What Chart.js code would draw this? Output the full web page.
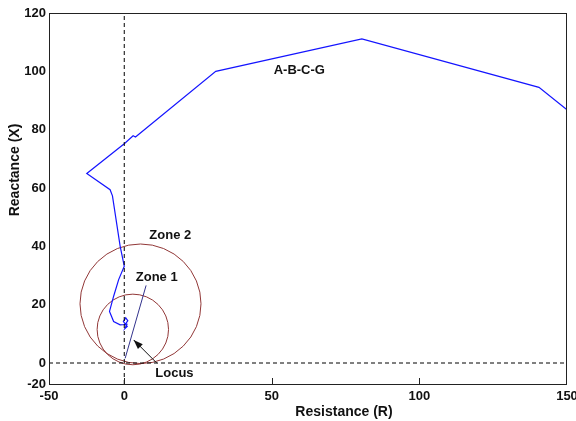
<!DOCTYPE html>
<html>
<head>
<meta charset="utf-8">
<script src="https://cdn.jsdelivr.net/npm/chart.js@4.4.0/dist/chart.umd.min.js"></script>
<style>
  html, body { margin: 0; padding: 0; background: #fff; }
  #wrap { width: 576px; height: 421px; }
</style>
</head>
<body>
<div id="wrap"><canvas id="myChart" width="576" height="421"></canvas></div>
<script>
// impedance trajectory seen by the relay (R, X)
const trajR = [150, 140.5, 80.5, 31, 3.8, 3.0, 0, -12.7, -4.8, -4, -1.4, 0, -1.9, -3.6, -5, -3.6, -1.4, 0.3, 1.2, 0.5, -0.3, 1.0, 0.2, 1.0];
const trajX = [86.8, 94.5, 111.1, 100, 77.5, 77.9, 75.2, 65, 59.4, 57.3, 40.1, 33.2, 28.6, 22.9, 17.7, 14.2, 13.1, 13.2, 14.5, 15.5, 14.2, 12.5, 11.8, 13.5];

// relay line (locus)
const locusR = [0.3, 7.4];
const locusX = [1.6, 26.6];

// mho zones: centre R, centre X, radius
const zoneNames = ["Zone 1", "Zone 2"];
const zoneCenterR = [2.9, 5.5];
const zoneCenterX = [11.5, 20.3];
const zoneRadius = [12.1, 20.5];

// axis ticks (left / bottom ends carry the labels of the original figure)
const xTickValues = [-25.5, 0, 50, 100, 150];
const xTickLabels = ["-50", "0", "50", "100", "150"];
const yTickValues = [-7.2, 0, 20, 40, 60, 80, 100, 120];
const yTickLabels = ["-20", "0", "20", "40", "60", "80", "100", "120"];

// text notes
const noteText = ["A-B-C-G", "Zone 2", "Zone 1", "Locus"];
const noteR = [59.3, 15.6, 11, 17];
const noteX = [100.3, 43.9, 29.2, -3.6];

// arrow from "Locus" text to the line
const arrowR = [11.1, 3.2];
const arrowX = [-0.1, 7.9];

const toPoints = (xs, ys) => xs.map((v, i) => ({ x: v, y: ys[i] }));

const FONT = "'Liberation Sans', Arial, sans-serif";

const extrasPlugin = {
  id: "extras",
  beforeDatasetsDraw(chart) {
    const { ctx, chartArea, scales } = chart;
    const sx = scales.x, sy = scales.y;
    ctx.save();
    ctx.beginPath();
    ctx.rect(chartArea.left, chartArea.top, chartArea.width, chartArea.height);
    ctx.clip();
    ctx.strokeStyle = "rgb(145,55,55)";
    ctx.lineWidth = 1;
    zoneRadius.forEach((r, i) => {
      const cx = sx.getPixelForValue(zoneCenterR[i]);
      const cy = sy.getPixelForValue(zoneCenterX[i]);
      const rx = Math.abs(sx.getPixelForValue(zoneCenterR[i] + r) - cx);
      const ry = Math.abs(sy.getPixelForValue(zoneCenterX[i] + r) - cy);
      ctx.beginPath();
      ctx.ellipse(cx, cy, rx, ry, 0, 0, Math.PI * 2);
      ctx.stroke();
    });
    ctx.restore();
  },
  afterDraw(chart) {
    const { ctx, chartArea, scales } = chart;
    const sx = scales.x, sy = scales.y;
    ctx.save();
    // frame
    ctx.strokeStyle = "#222";
    ctx.lineWidth = 1;
    ctx.strokeRect(chartArea.left + 0.5, chartArea.top + 0.5, chartArea.width - 1, chartArea.height);
    // inward ticks on bottom axis
    xTickValues.slice(1, 4).forEach(v => {
      const px = Math.round(sx.getPixelForValue(v)) + 0.5;
      ctx.beginPath();
      ctx.moveTo(px, chartArea.bottom);
      ctx.lineTo(px, chartArea.bottom - 6);
      ctx.stroke();
    });
    // notes
    ctx.fillStyle = "#111";
    ctx.font = "bold 13px " + FONT;
    ctx.textAlign = "center";
    ctx.textBaseline = "middle";
    noteText.forEach((t, i) => {
      ctx.fillText(t, sx.getPixelForValue(noteR[i]), sy.getPixelForValue(noteX[i]));
    });
    // arrow
    const x0 = sx.getPixelForValue(arrowR[0]), y0 = sy.getPixelForValue(arrowX[0]);
    const x1 = sx.getPixelForValue(arrowR[1]), y1 = sy.getPixelForValue(arrowX[1]);
    const ang = Math.atan2(y1 - y0, x1 - x0);
    ctx.strokeStyle = "#111";
    ctx.beginPath();
    ctx.moveTo(x0, y0);
    ctx.lineTo(x1, y1);
    ctx.stroke();
    ctx.beginPath();
    ctx.moveTo(x1, y1);
    ctx.lineTo(x1 - 10 * Math.cos(ang - 0.35), y1 - 10 * Math.sin(ang - 0.35));
    ctx.lineTo(x1 - 10 * Math.cos(ang + 0.35), y1 - 10 * Math.sin(ang + 0.35));
    ctx.closePath();
    ctx.fill();
    // axis titles
    ctx.font = "bold 14px " + FONT;
    ctx.fillText("Resistance (R)", 344, 412);
    ctx.translate(15, 170);
    ctx.rotate(-Math.PI / 2);
    ctx.fillText("Reactance (X)", 0, 0);
    ctx.restore();
  }
};

const ctx = document.getElementById("myChart").getContext("2d");
new Chart(ctx, {
  type: "scatter",
  data: {
    datasets: [
      {
        label: "R = 0",
        data: [{ x: 0, y: yTickValues[0] }, { x: 0, y: 120 }],
        showLine: true,
        borderColor: "#000",
        borderWidth: 1,
        borderDash: [4, 3],
        pointRadius: 0
      },
      {
        label: "X = 0",
        data: [{ x: xTickValues[0], y: 0 }, { x: 150, y: 0 }],
        showLine: true,
        borderColor: "#000",
        borderWidth: 1,
        borderDash: [4, 3],
        pointRadius: 0
      },
      {
        label: "Locus",
        data: toPoints(locusR, locusX),
        showLine: true,
        borderColor: "rgb(50,50,140)",
        borderWidth: 1,
        pointRadius: 0
      },
      {
        label: "A-B-C-G",
        data: toPoints(trajR, trajX),
        showLine: true,
        borderColor: "rgb(20,20,255)",
        borderWidth: 1.2,
        pointRadius: 0
      }
    ]
  },
  options: {
    responsive: false,
    animation: false,
    layout: { padding: { top: 13, right: 9, left: 0, bottom: 0 } },
    plugins: {
      legend: { display: false },
      tooltip: { enabled: false }
    },
    scales: {
      x: {
        type: "linear",
        min: xTickValues[0],
        max: 150,
        grid: { display: false, drawTicks: false },
        border: { display: false },
        afterBuildTicks: (scale) => { scale.ticks = xTickValues.map(v => ({ value: v })); },
        afterFit: (scale) => {
          scale.height = 37;
          scale.paddingLeft = 0;
          scale.paddingRight = 0;
        },
        ticks: {
          autoSkip: false,
          maxRotation: 0,
          padding: 5,
          color: "#111",
          font: { family: FONT, size: 13, weight: "bold" },
          callback: (v, i) => xTickLabels[i]
        }
      },
      y: {
        type: "linear",
        min: yTickValues[0],
        max: 120,
        grid: { display: false, drawTicks: false },
        border: { display: false },
        afterBuildTicks: (scale) => { scale.ticks = yTickValues.map(v => ({ value: v })); },
        afterFit: (scale) => {
          scale.width = 49;
          scale.paddingTop = 0;
          scale.paddingBottom = 0;
        },
        ticks: {
          autoSkip: false,
          padding: 3,
          color: "#111",
          font: { family: FONT, size: 13, weight: "bold" },
          callback: (v, i) => yTickLabels[i]
        }
      }
    }
  },
  plugins: [extrasPlugin]
});
</script>
</body>
</html>
